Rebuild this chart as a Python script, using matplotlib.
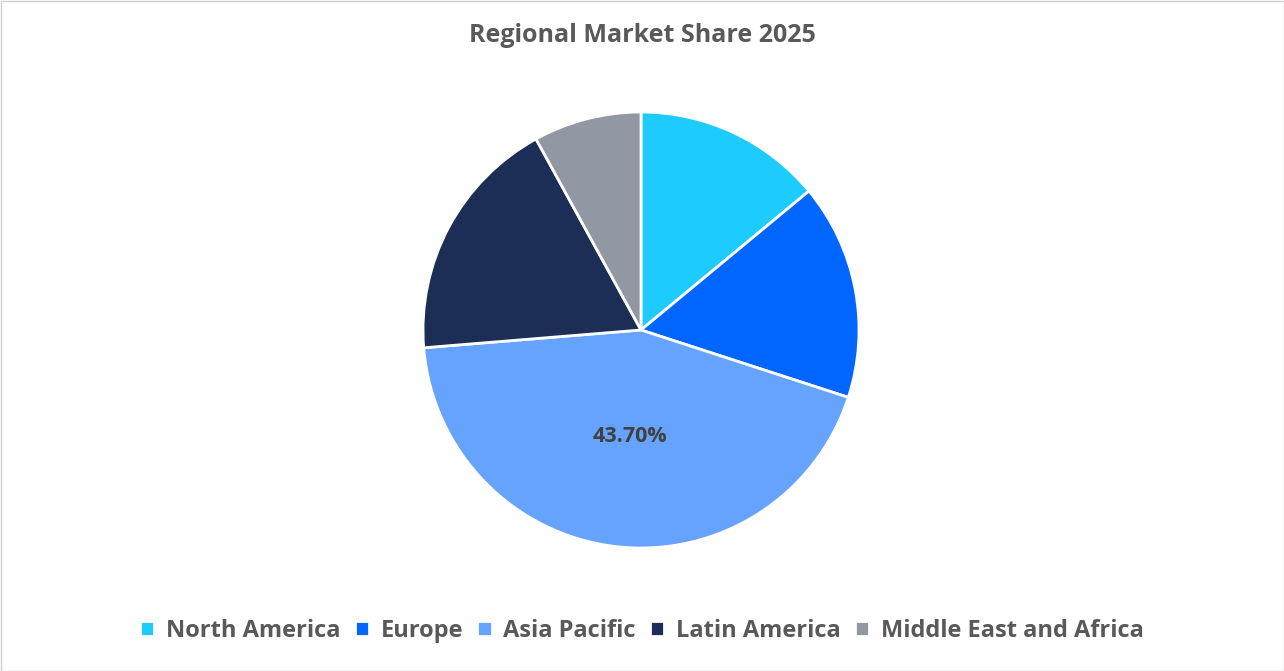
import matplotlib.pyplot as plt
from matplotlib.patches import Rectangle

regions = ['North America', 'Europe', 'Asia Pacific', 'Latin America', 'Middle East and Africa']
shares = [14.0, 16.0, 43.7, 18.3, 8.0]
colors = ['#1ECBFF', '#0066FF', '#66A3FF', '#1C2E55', '#9197A3']

plt.rcParams['font.family'] = ['Open Sans', 'DejaVu Sans']

W, H = 1284, 671
fig = plt.figure(figsize=(W / 100, H / 100), dpi=100)
fig.patches.append(Rectangle((0.5 / W, 0.5 / H), 1 - 1 / W, 1 - 1 / H, transform=fig.transFigure,
                             fill=False, edgecolor='#D0D0D0', linewidth=1))

cx, cy, r = 641, 330, 218
ax = fig.add_axes([(cx - r) / W, (H - cy - r) / H, 2 * r / W, 2 * r / H])
wedges, texts = ax.pie(shares, colors=colors, startangle=90, counterclock=False,
                       wedgeprops=dict(edgecolor='white', linewidth=2))
ax.set_xlim(-1, 1)
ax.set_ylim(-1, 1)
ax.set_aspect('equal')

# only the Asia Pacific slice carries a label
ax.text(-0.05, -0.49, '43.70%', ha='center', va='center', fontsize=15.5,
        fontweight='bold', color='#404040')

fig.text(0.5, 1 - 36 / H, 'Regional Market Share 2025', ha='center', va='center',
         fontsize=18, fontweight='bold', color='#595959')

fig.legend(wedges, regions, loc='center', bbox_to_anchor=(0.5, 1 - 631 / H), ncol=5,
           frameon=False, prop={'size': 17, 'weight': 'bold'}, handlelength=0.6,
           handleheight=0.6, handletextpad=0.5, columnspacing=0.6, labelcolor='#595959')

fig.savefig('out.png', dpi=100)
